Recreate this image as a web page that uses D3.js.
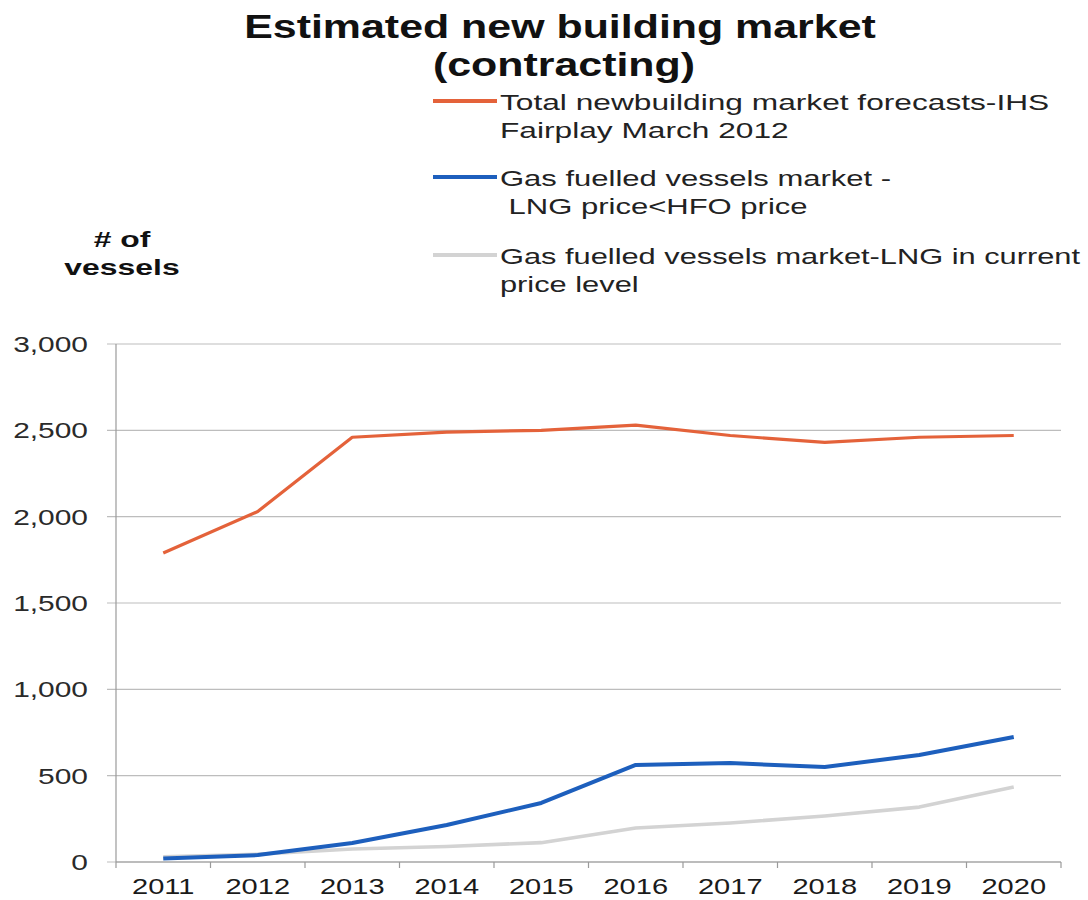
<!DOCTYPE html>
<html><head><meta charset="utf-8">
<script src="https://cdn.jsdelivr.net/npm/d3@7"></script>
<style>body{margin:0;background:#fff;} svg{display:block;}</style>
</head><body>
<svg id="chart" width="1088" height="900"></svg>
<script>
const years = ["2011","2012","2013","2014","2015","2016","2017","2018","2019","2020"];
const totalMarket = [1790, 2030, 2460, 2490, 2500, 2530, 2470, 2430, 2460, 2470];
const gasLowPrice = [20, 40, 110, 214, 342, 562, 573, 550, 620, 724];
const gasCurrent = [30, 45, 75, 90, 112, 197, 226, 266, 318, 434];
const yTicks = [0, 500, 1000, 1500, 2000, 2500, 3000];
const seriesNames = [
  ["Total newbuilding market forecasts-IHS", "Fairplay March 2012"],
  ["Gas fuelled vessels market -", "\u00a0LNG price<HFO price"],
  ["Gas fuelled vessels market-LNG in current", "price level"]
];
const seriesColors = ["#E4623A", "#1D5FBD", "#D3D3D3"];

const svg = d3.select("#chart");
const font = "Liberation Sans, Arial, sans-serif";
const L = 116, R = 1061, T = 344, B = 862;
const x = d3.scaleBand().domain(years).range([L, R]);
const y = d3.scaleLinear().domain([0, 3000]).range([B, T]);

// helper: stretched text
function stext(parent, tx, ty, sx, txt, opts) {
  return parent.append("text")
    .attr("transform", `translate(${tx},${ty}) scale(${sx},1)`)
    .attr("font-family", font).attr("font-size", opts.size)
    .attr("font-weight", opts.weight || "normal")
    .attr("text-anchor", opts.anchor || "start")
    .attr("fill", opts.fill || "#222").text(txt);
}

// gridlines
svg.append("g").selectAll("line").data(yTicks).join("line")
  .attr("x1", L - 9).attr("x2", R)
  .attr("y1", d => y(d)).attr("y2", d => y(d))
  .attr("stroke", "#bdbdbd").attr("stroke-width", 1.2);

// y axis line
svg.append("line").attr("x1", L).attr("x2", L).attr("y1", T).attr("y2", B)
  .attr("stroke", "#9a9a9a").attr("stroke-width", 1.2);

// y tick labels
const yl = svg.append("g");
yTicks.forEach(d => stext(yl, 88, y(d) + 8, 1.36, d3.format(",")(d), {size: 22, anchor: "end", fill: "#2a2a2a"}));

// x axis
const xAxis = svg.append("g").attr("transform", `translate(0,${B})`);
xAxis.append("line").attr("x1", L).attr("x2", R).attr("stroke", "#9a9a9a").attr("stroke-width", 1.2);
const bounds = years.map(d => x(d)).concat([R]);
xAxis.selectAll("line.tk").data(bounds).join("line").attr("class", "tk")
  .attr("x1", d => d).attr("x2", d => d).attr("y1", 0).attr("y2", 6)
  .attr("stroke", "#9a9a9a").attr("stroke-width", 1.2);
years.forEach(d => stext(xAxis, x(d) + x.bandwidth() / 2, 32, 1.32, d, {size: 22, anchor: "middle", fill: "#1a1a1a"}));

// lines
const line = d3.line().x((d, i) => x(years[i]) + x.bandwidth() / 2).y(d => y(d));
const series = [totalMarket, gasLowPrice, gasCurrent];
const widths = [3.2, 4, 3.6];
[2, 1, 0].forEach(i => {
  svg.append("path").datum(series[i]).attr("d", line)
    .attr("fill", "none").attr("stroke", seriesColors[i]).attr("stroke-width", widths[i])
    .attr("stroke-linejoin", "round").attr("stroke-linecap", "butt");
});

// title
stext(svg, 560, 38, 1.30, "Estimated new building market", {size: 33, weight: "bold", anchor: "middle", fill: "#111"});
stext(svg, 564, 76, 1.30, "(contracting)", {size: 33, weight: "bold", anchor: "middle", fill: "#111"});

// y label
stext(svg, 122, 247, 1.45, "# of", {size: 22, weight: "bold", anchor: "middle", fill: "#111"});
stext(svg, 122, 275, 1.45, "vessels", {size: 22, weight: "bold", anchor: "middle", fill: "#111"});

// legend
const legY = [101, 177, 255];
const legScale = [1.44, 1.41, 1.40];
seriesNames.forEach((names, i) => {
  const g = svg.append("g");
  g.append("line").attr("x1", 433).attr("x2", 497).attr("y1", legY[i]).attr("y2", legY[i])
    .attr("stroke", seriesColors[i]).attr("stroke-width", 4);
  names.forEach((t, j) => {
    stext(g, 500, legY[i] + 9 + j * 28, legScale[i], t, {size: 22, fill: "#222"});
  });
});
</script>
</body></html>
